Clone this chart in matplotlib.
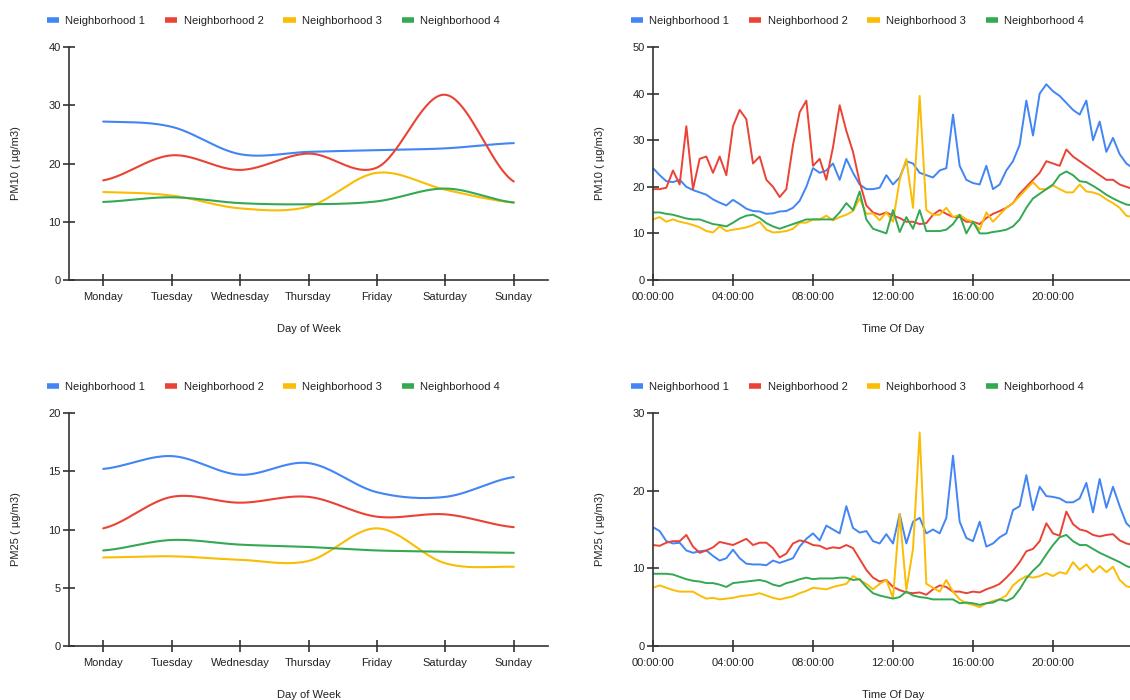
import numpy as np
import pandas as pd
import matplotlib
matplotlib.use("Agg")
import matplotlib.pyplot as plt
from matplotlib.lines import Line2D

plt.rcParams['font.family'] = ['Liberation Sans', 'DejaVu Sans']

names = ['Neighborhood 1', 'Neighborhood 2', 'Neighborhood 3', 'Neighborhood 4']
colors = ['#4285F4', '#EA4335', '#FBBC04', '#34A853']

days = ['Monday', 'Tuesday', 'Wednesday', 'Thursday', 'Friday', 'Saturday', 'Sunday']

# weekly averages
pm10_week_n1 = [27.2, 26.3, 21.6, 22.0, 22.3, 22.6, 23.5]
pm10_week_n2 = [17.1, 21.4, 18.9, 21.7, 19.3, 31.8, 16.9]
pm10_week_n3 = [15.1, 14.5, 12.3, 12.6, 18.4, 15.5, 13.3]
pm10_week_n4 = [13.4, 14.2, 13.2, 13.0, 13.5, 15.7, 13.3]

pm25_week_n1 = [15.2, 16.3, 14.7, 15.7, 13.2, 12.8, 14.5]
pm25_week_n2 = [10.1, 12.8, 12.3, 12.8, 11.1, 11.3, 10.2]
pm25_week_n3 = [7.6, 7.7, 7.4, 7.3, 10.1, 7.1, 6.8]
pm25_week_n4 = [8.2, 9.1, 8.7, 8.5, 8.2, 8.1, 8.0]

# time of day, sampled every 20 minutes
times = pd.date_range('2000-01-01 00:00', periods=73, freq='20min')
hours = (times - times[0]).total_seconds() / 3600

pm10_day_n1 = [24, 22.5, 21.2, 21, 21.5, 20, 19.3, 18.8, 18.3, 17.3, 16.6, 16, 17.2, 16.3, 15.3,
               14.8, 14.7, 14.2, 14.3, 14.7, 14.8, 15.5, 17, 20, 24, 23, 23.5, 25, 21.5, 26,
               23, 20.5, 19.5, 19.5, 19.8, 22.5, 20.5, 22, 25.5, 25, 23, 22.5, 22, 23.5, 24,
               35.5, 24.5, 21.5, 20.8, 20.5, 24.5, 19.5, 20.5, 23.5, 25.5, 29, 38.5, 31, 40, 42,
               40.5, 39.5, 38, 36.5, 35.5, 38.5, 30, 34, 27.5, 30.5, 27, 25, 24]
pm10_day_n2 = [19.5, 19.5, 19.8, 23.5, 20.5, 33, 19.5, 26, 26.5, 23, 26.5, 22.5, 33, 36.5, 34.5,
               25, 26.5, 21.5, 20, 17.8, 19.5, 29, 36, 38.5, 24.5, 26, 21.5, 28.5, 37.5, 32,
               27.5, 21, 16, 14.5, 14, 14.5, 13.8, 13.3, 12.5, 12.5, 12, 12.2, 14, 15, 14.2,
               13.5, 13.5, 12.5, 12.5, 12, 13.3, 14.2, 14.8, 15.5, 16.5, 18.5, 20, 21.5, 23, 25.5,
               25, 24.5, 28, 26.5, 25.5, 24.5, 23.5, 22.5, 21.5, 21.5, 20.5, 20, 19.5]
pm10_day_n3 = [13, 13.5, 12.5, 13, 12.5, 12.2, 11.8, 11.3, 10.5, 10.2, 11.5, 10.5, 10.8, 11, 11.3,
               11.8, 12.5, 10.8, 10.2, 10.3, 10.5, 11, 12.3, 12.3, 13, 13, 13.8, 12.8, 13.5, 14,
               14.8, 17.5, 14.2, 14.3, 12.8, 14.5, 12.5, 21.5, 26, 15.5, 39.5, 15, 14, 14, 15.5,
               13.5, 14, 13, 12.5, 10.8, 14.5, 12.5, 14, 15.5, 16.5, 18, 19.5, 21, 19.5, 19.5,
               20.3, 19.5, 18.8, 18.8, 20.5, 19, 18.8, 18.3, 17.3, 16.5, 15.5, 13.8, 13.5]
pm10_day_n4 = [14.5, 14.5, 14.2, 14, 13.6, 13.2, 13, 13, 12.5, 12, 11.8, 11.5, 12.3, 13.2, 13.8,
               14, 13.3, 12.2, 11.5, 11, 11.5, 12, 12.5, 13, 13, 13, 13, 13, 14.5, 16.5,
               15, 19, 13, 11, 10.5, 10, 15, 10.3, 13.5, 11, 15, 10.5, 10.5, 10.5, 10.8,
               12, 14, 10, 12.5, 10, 10, 10.3, 10.5, 10.8, 11.5, 13, 15.5, 17.5, 18.5, 19.5,
               20.5, 22.5, 23.3, 22.5, 21.2, 21, 20.2, 19.3, 18.3, 17.5, 16.8, 16.2, 16]

pm25_day_n1 = [15.3, 14.8, 13.5, 13.2, 13.3, 12.3, 12, 12.2, 12.3, 11.6, 11, 11.3, 12.4, 11.3, 10.6,
               10.5, 10.5, 10.4, 11, 10.7, 11, 11.3, 12.8, 13.8, 14.5, 13.6, 15.5, 15, 14.5, 18,
               15.2, 14.6, 14.8, 13.5, 13.2, 14.4, 13.2, 17, 13.2, 16, 16.5, 14.5, 15, 14.5, 16.5,
               24.5, 16, 13.9, 13.5, 16, 12.8, 13.2, 14, 14.5, 17.5, 18, 22, 17.5, 20.5, 19.3,
               19.2, 19, 18.5, 18.5, 19, 21, 17.2, 21.5, 17.8, 20.5, 18, 15.8, 15]
pm25_day_n2 = [13, 12.9, 13.3, 13.5, 13.5, 14.3, 12.8, 12, 12.3, 12.7, 13.4, 13.2, 13, 13.4, 13.8,
               13, 13.3, 13.3, 12.6, 11.4, 11.9, 13.2, 13.6, 13.4, 13, 12.9, 12.5, 12.7, 12.6, 13,
               12.6, 11.2, 9.8, 8.8, 8.3, 8.5, 7.6, 7.2, 6.9, 6.8, 6.9, 6.6, 7.3, 7.8, 7.6,
               7, 7, 6.8, 7, 6.9, 7.3, 7.6, 8, 8.8, 9.7, 10.8, 12.2, 12.5, 13.5, 15.8,
               14.5, 14.2, 17.3, 15.7, 15, 14.8, 14.3, 14.1, 14.3, 14.4, 13.6, 13.2, 13]
pm25_day_n3 = [7.5, 7.8, 7.5, 7.2, 7, 7, 7, 6.5, 6.1, 6.2, 6, 6.1, 6.2, 6.4, 6.5,
               6.6, 6.8, 6.5, 6.2, 6, 6.2, 6.4, 6.8, 7.1, 7.5, 7.4, 7.3, 7.6, 7.8, 8,
               9, 8.5, 8, 7.3, 8, 8.5, 6.2, 17, 7.2, 12.5, 27.5, 8, 7.5, 7, 8.5,
               7, 6, 5.5, 5.3, 5, 5.5, 5.8, 6, 6.5, 7.8, 8.5, 9, 8.8, 9, 9.4,
               9, 9.5, 9.3, 10.8, 9.8, 10.5, 9.5, 10.3, 9.5, 10.2, 8.5, 7.7, 7.5]
pm25_day_n4 = [9.3, 9.3, 9.3, 9.2, 8.9, 8.6, 8.4, 8.3, 8.1, 8.1, 7.9, 7.6, 8.1, 8.2, 8.3,
               8.4, 8.5, 8.3, 7.9, 7.7, 8.1, 8.3, 8.6, 8.8, 8.6, 8.7, 8.7, 8.7, 8.8, 8.8,
               8.5, 8.6, 7.6, 6.8, 6.5, 6.3, 6.1, 6.3, 7, 6.5, 6.3, 6.2, 6, 6, 6,
               6, 5.5, 5.6, 5.5, 5.3, 5.5, 5.6, 6, 5.8, 6.2, 7.3, 8.7, 9.7, 10.5, 11.8,
               13, 14, 14.3, 13.5, 13, 13, 12.5, 12, 11.6, 11.2, 10.8, 10.3, 10]


def smooth(y, n=40):
    # cardinal spline through the points, like the "function" curve type
    y = np.asarray(y, float)
    m = np.zeros_like(y)
    m[1:-1] = (y[2:] - y[:-2]) / 2
    m[0] = (y[1] - y[0]) / 2
    m[-1] = (y[-1] - y[-2]) / 2
    t = np.linspace(0, 1, n)
    h00 = 2 * t**3 - 3 * t**2 + 1
    h10 = t**3 - 2 * t**2 + t
    h01 = -2 * t**3 + 3 * t**2
    h11 = t**3 - t**2
    xs, ys = [], []
    for i in range(len(y) - 1):
        xs.append(i + t)
        ys.append(h00 * y[i] + h10 * m[i] + h01 * y[i + 1] + h11 * m[i + 1])
    return np.concatenate(xs), np.concatenate(ys)


axis_col = '#333333'
text_col = '#222222'
fs = 8


def style(ax, ymax, ystep, ylabel, xlabel, width_px):
    for s in ['top', 'right']:
        ax.spines[s].set_visible(False)
    for s in ['left', 'bottom']:
        ax.spines[s].set_color(axis_col)
        ax.spines[s].set_linewidth(1.2)
    ax.set_ylim(0, ymax)
    ax.set_yticks(np.arange(0, ymax + 0.1, ystep))
    ax.tick_params(axis='both', direction='inout', length=8, width=1.2, color=axis_col,
                   labelsize=fs, labelcolor=text_col)
    ax.tick_params(axis='y', pad=2)
    ax.tick_params(axis='x', pad=5)
    ax.set_ylabel(ylabel, fontsize=fs, color=text_col)
    ax.set_xlabel(xlabel, fontsize=fs, color=text_col)
    ax.xaxis.set_label_coords(0.5, -0.19)
    ax.yaxis.set_label_coords(-48 / width_px, 0.5)
    handles = [Line2D([], [], color=c, lw=4, solid_capstyle='butt') for c in colors]
    ax.legend(handles, names, loc='center left', bbox_to_anchor=(-22 / width_px, 1.112),
              ncol=4, frameon=False, fontsize=fs, handlelength=1.1, handletextpad=0.55,
              columnspacing=1.8, borderpad=0, borderaxespad=0, labelcolor=text_col)


fig = plt.figure(figsize=(11.3, 7), dpi=100)
W, H = 1130, 700

left_x0, left_w = 69, 479
right_x0, right_w = 653, 477
top_y0, bot_y0, ax_h = 280, 646, 233

week_sets = [
    ([pm10_week_n1, pm10_week_n2, pm10_week_n3, pm10_week_n4], top_y0, 40, 10, 'PM10 ( µg/m3)'),
    ([pm25_week_n1, pm25_week_n2, pm25_week_n3, pm25_week_n4], bot_y0, 20, 5, 'PM25 ( µg/m3)'),
]
for series, y0, ymax, ystep, lab in week_sets:
    ax = fig.add_axes([left_x0 / W, (H - y0) / H, left_w / W, ax_h / H])
    for vals, c in zip(series, colors):
        xs, ys = smooth(vals)
        ax.plot(xs, ys, color=c, lw=1.5, solid_capstyle='round')
    ax.set_xlim(-0.5, len(days) - 0.5)
    ax.set_xticks(range(len(days)))
    ax.set_xticklabels(days)
    style(ax, ymax, ystep, lab, 'Day of Week', left_w)

day_sets = [
    ([pm10_day_n1, pm10_day_n2, pm10_day_n3, pm10_day_n4], top_y0, 50, 10, 'PM10 ( µg/m3)'),
    ([pm25_day_n1, pm25_day_n2, pm25_day_n3, pm25_day_n4], bot_y0, 30, 10, 'PM25 ( µg/m3)'),
]
for series, y0, ymax, ystep, lab in day_sets:
    ax = fig.add_axes([right_x0 / W, (H - y0) / H, right_w / W, ax_h / H])
    for vals, c in zip(series, colors):
        ax.plot(hours, vals, color=c, lw=1.4)
    ax.set_xlim(0, 24 * right_w / 480)
    ax.set_xticks(range(0, 24, 4))
    ax.set_xticklabels(['%02d:00:00' % h for h in range(0, 24, 4)])
    style(ax, ymax, ystep, lab, 'Time Of Day', right_w)
    ax.xaxis.set_label_coords(240 / right_w, -0.19)

fig.savefig('out.png', dpi=100)
